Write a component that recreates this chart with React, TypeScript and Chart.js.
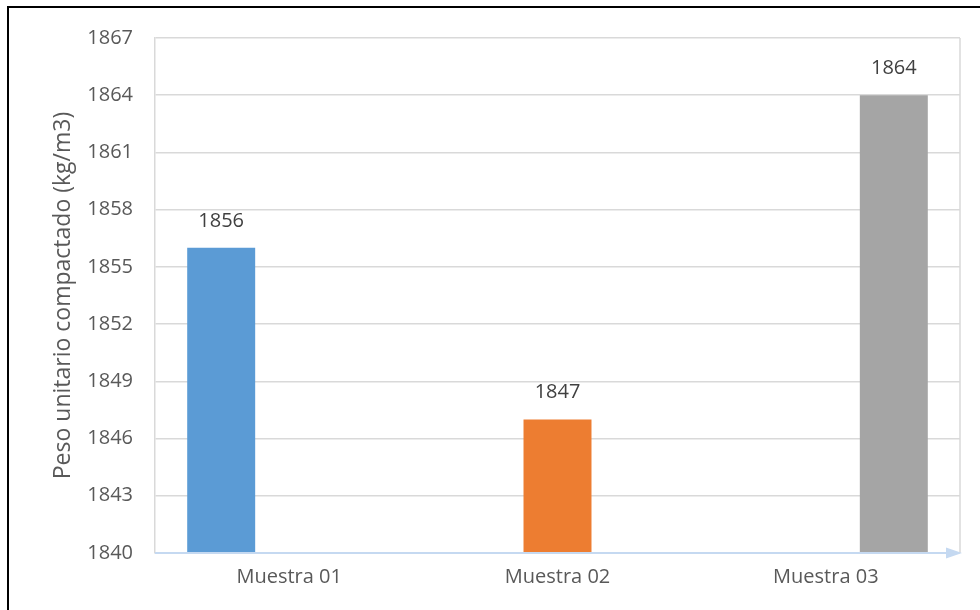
import React, { useEffect, useRef } from "react";
import { Chart, registerables } from "chart.js";

Chart.register(...registerables);

const categories = ["Muestra 01", "Muestra 02", "Muestra 03"];
const seriesNames = ["Muestra 01", "Muestra 02", "Muestra 03"];
const seriesValues: (number | null)[][] = [
  [1856, null, null],
  [null, 1847, null],
  [null, null, 1864],
];
const seriesColors = ["#5b9bd5", "#ed7d31", "#a5a5a5"];
const yMin = 1840;
const yMax = 1867;
const yStep = 3;
const yTitle = "Peso unitario compactado (kg/m3)";

const FONT = "'Open Sans', sans-serif";
const TEXT = "#595959";

const decor = {
  id: "decor",
  afterDatasetsDraw(chart: any) {
    const { ctx, chartArea } = chart;
    const { left, right, top, bottom } = chartArea;
    ctx.save();
    // right border
    ctx.strokeStyle = "#d9d9d9";
    ctx.lineWidth = 1.5;
    ctx.beginPath();
    ctx.moveTo(right, top);
    ctx.lineTo(right, bottom);
    ctx.stroke();
    // bottom axis with arrow
    ctx.strokeStyle = "#c5d9f1";
    ctx.fillStyle = "#c5d9f1";
    ctx.lineWidth = 2;
    ctx.beginPath();
    ctx.moveTo(left, bottom);
    ctx.lineTo(right - 12, bottom);
    ctx.stroke();
    ctx.beginPath();
    ctx.moveTo(right - 14, bottom - 5.5);
    ctx.lineTo(right + 2, bottom);
    ctx.lineTo(right - 14, bottom + 5.5);
    ctx.closePath();
    ctx.fill();
    // data labels
    ctx.fillStyle = "#404040";
    ctx.font = `20px ${FONT}`;
    ctx.textAlign = "center";
    ctx.textBaseline = "middle";
    chart.data.datasets.forEach((ds: any, i: number) => {
      const meta = chart.getDatasetMeta(i);
      meta.data.forEach((bar: any, j: number) => {
        const v = ds.data[j];
        if (v == null) return;
        ctx.fillText(String(v), bar.x, bar.y - 27);
      });
    });
    ctx.restore();
  },
};

export default function App() {
  const ref = useRef<HTMLCanvasElement>(null);
  useEffect(() => {
    if (!ref.current) return;
    const chart = new Chart(ref.current, {
      type: "bar",
      data: {
        labels: categories,
        datasets: seriesNames.map((n, i) => ({
          label: n,
          data: seriesValues[i],
          backgroundColor: seriesColors[i],
          borderWidth: 0,
          barPercentage: 1,
          categoryPercentage: 0.76,
        })),
      },
      options: {
        animation: false,
        responsive: false,
        maintainAspectRatio: false,
        layout: { padding: { left: 0, right: 20, top: 38, bottom: 0 } },
        plugins: { legend: { display: false }, tooltip: { enabled: false } },
        scales: {
          x: {
            grid: { display: false, drawTicks: false },
            border: { display: false },
            ticks: { color: TEXT, font: { family: FONT, size: 20 }, padding: 12 },
            afterFit: (s: any) => {
              s.height = 57;
            },
          },
          y: {
            min: yMin,
            max: yMax,
            ticks: {
              stepSize: yStep,
              color: TEXT,
              font: { family: FONT, size: 20 },
              padding: 22,
              callback: (v: any) => String(v),
            },
            grid: { color: "#d9d9d9", lineWidth: 1.5, drawTicks: false },
            border: { display: true, color: "#d9d9d9", width: 1.5 },
            title: {
              display: true,
              text: yTitle,
              color: TEXT,
              font: { family: FONT, size: 23 },
              padding: { top: 50, bottom: 0 },
            },
            afterFit: (s: any) => {
              s.width = 155;
            },
          },
        },
      },
      plugins: [decor],
    });
    return () => chart.destroy();
  }, []);
  return (
    <>
      <canvas
        ref={ref}
        width={980}
        height={610}
        style={{ position: "fixed", left: 0, top: 0, width: 980, height: 610 }}
      />
      <div
        style={{
          position: "fixed",
          left: 7,
          top: 6,
          width: 973,
          height: 604,
          borderLeft: "2px solid #000",
          borderTop: "2px solid #000",
          boxSizing: "border-box",
          pointerEvents: "none",
        }}
      />
    </>
  );
}
